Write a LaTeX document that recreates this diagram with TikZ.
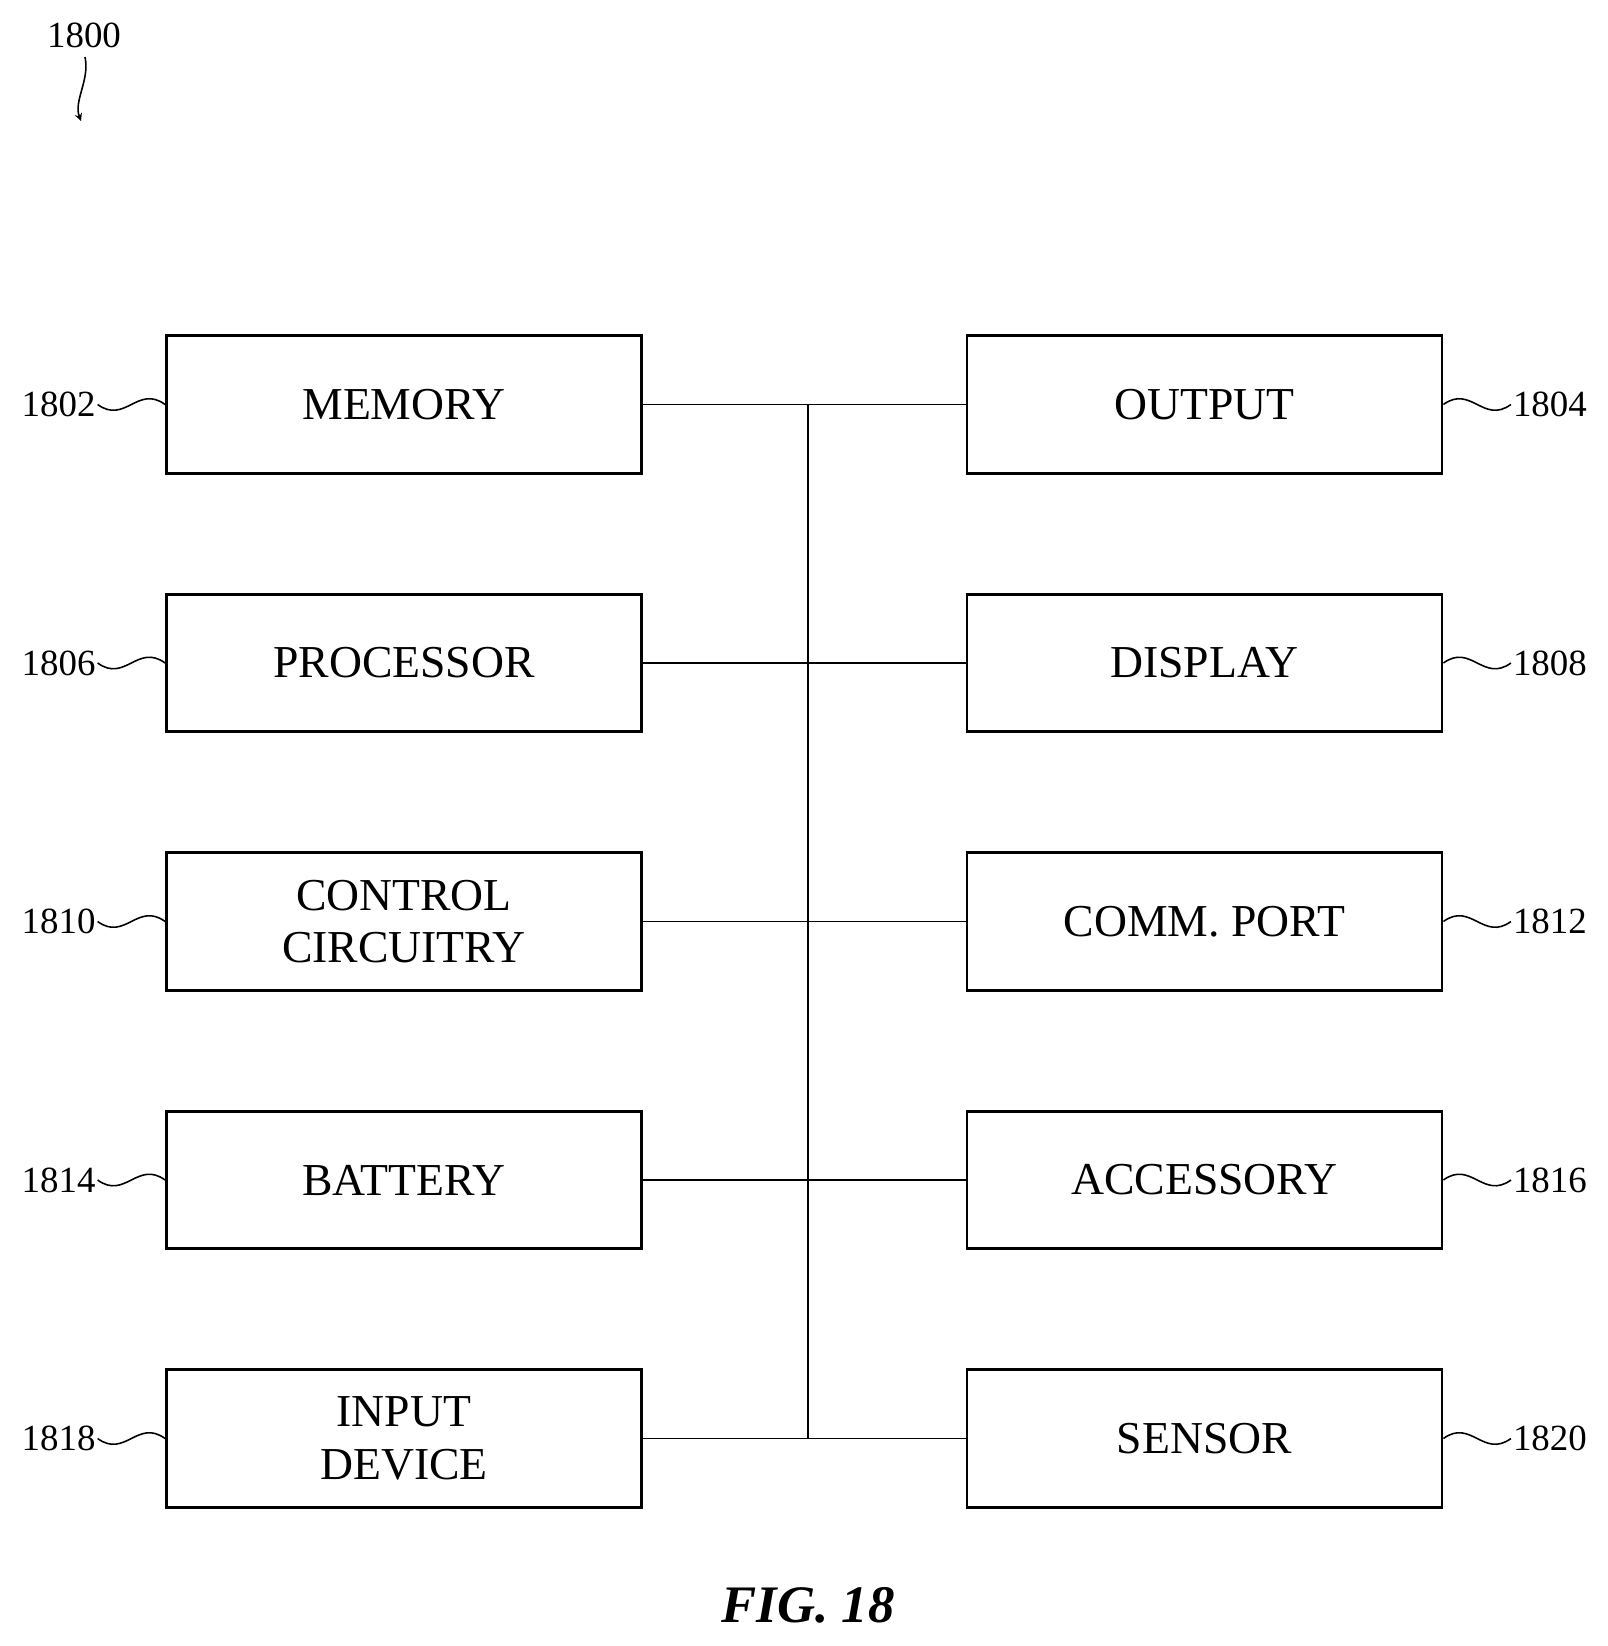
\documentclass[tikz,border=0pt]{standalone}
\usepackage{fontspec}
\setmainfont{Liberation Serif}
\usetikzlibrary{positioning}

\tikzset{
  block/.style={draw, line width=1.6pt, minimum width=9.5cm, minimum height=2.75cm,
    align=center, font=\fontsize{26}{30}\selectfont},
  refnum/.style={font=\fontsize{21}{24}\selectfont, inner sep=1pt},
  bus/.style={line width=1pt},
  lead/.style={line width=0.9pt}
}

\begin{document}
\begin{tikzpicture}
  \useasboundingbox (0,0) rectangle (32.14,-32.92);

  % left column
  \node (memory) [block] at (8.08,-8.09) {MEMORY};
  \node (processor) [block] at (8.08,-13.26) {PROCESSOR};
  \node (control) [block] at (8.08,-18.43) {CONTROL\\CIRCUITRY};
  \node (battery) [block] at (8.08,-23.60) {BATTERY};
  \node (input) [block] at (8.08,-28.77) {INPUT\\DEVICE};

  % right column
  \node (output) [block] at (24.09,-8.09) {OUTPUT};
  \node (display) [block] at (24.09,-13.26) {DISPLAY};
  \node (comm) [block] at (24.09,-18.43) {COMM. PORT};
  \node (accessory) [block] at (24.09,-23.60) {ACCESSORY};
  \node (sensor) [block] at (24.09,-28.77) {SENSOR};

  % bus
  \coordinate (bustop) at (16.16,-8.09);
  \coordinate (busbot) at (16.16,-28.77);
  \draw[bus] (bustop) -- (busbot);
  \foreach \l/\r in {memory/output, processor/display, control/comm,
                     battery/accessory, input/sensor}
    \draw[bus] (\l.east) -- (\r.west);

  % reference numerals
  \foreach \b/\n in {memory/1802, processor/1806, control/1810,
                     battery/1814, input/1818} {
    \node (n\n) [refnum, anchor=east] at ([xshift=-1.35cm]\b.west) {\n};
    \draw[lead] (\b.west) .. controls +(-0.55,0.4) and +(0.55,-0.4) .. (n\n.east);
  }
  \foreach \b/\n in {output/1804, display/1808, comm/1812,
                     accessory/1816, sensor/1820} {
    \node (n\n) [refnum, anchor=west] at ([xshift=1.35cm]\b.east) {\n};
    \draw[lead] (\b.east) .. controls +(0.55,0.4) and +(-0.55,-0.4) .. (n\n.west);
  }

  % figure number
  \node (n1800) [refnum] at (1.68,-0.70) {1800};
  \coordinate (tip) at (1.62,-2.42);
  \draw[lead, -stealth] (n1800.south) ++(0.02,-0.15) .. controls +(0.1,-0.45) and +(-0.15,0.4) .. (tip);

  \node (fig) [font=\bfseries\itshape\fontsize{30}{34}\selectfont] at (16.16,-32.1) {FIG. 18};
\end{tikzpicture}
\end{document}
